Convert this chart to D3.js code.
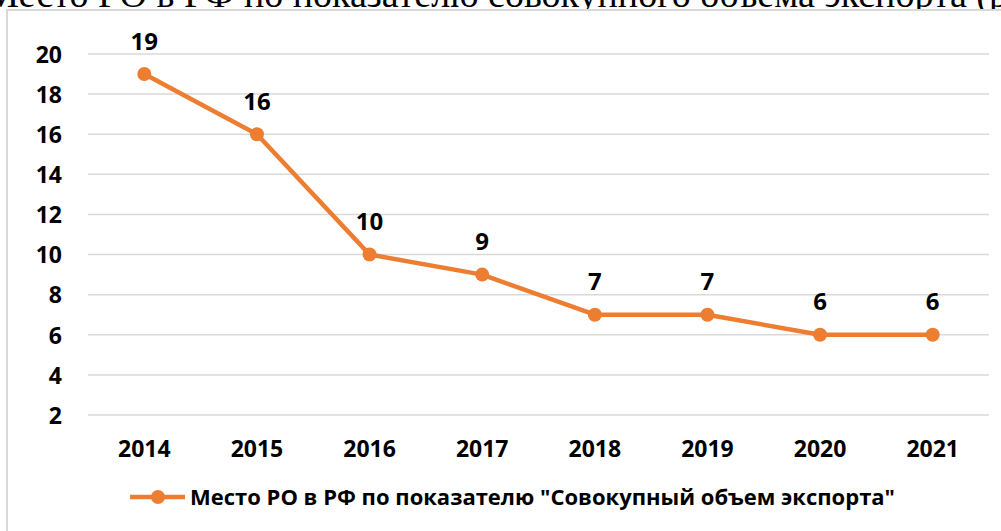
<!DOCTYPE html>
<html><head><meta charset="utf-8">
<script src="https://cdn.jsdelivr.net/npm/d3@7"></script>
<style>body{margin:0;background:#fff;} svg{display:block;}</style>
</head><body>
<svg id="c" width="1001" height="531"></svg>
<script>
const years = ["2014","2015","2016","2017","2018","2019","2020","2021"];
const values = [19,16,10,9,7,7,6,6];
const yTicks = [2,4,6,8,10,12,14,16,18,20];
const seriesName = "Место РО в РФ по показателю \"Совокупный объем экспорта\"";
const topText = "Рисунок 5 – Место РО в РФ по показателю совокупного объема экспорта (р";

const svg = d3.select("#c");
const color = "#ED7D31";
const font = "'Open Sans', Lato, sans-serif";

// cropped document text above the chart
svg.append("text").attr("x", 1008).attr("y", 7).attr("text-anchor","end")
  .attr("font-family","'Liberation Serif', serif")
  .attr("font-size", 38).attr("fill","#000").text(topText);

// chart frame
svg.append("rect").attr("x",7).attr("y",10).attr("width",1010).attr("height",540)
  .attr("fill","#fff").attr("stroke","#d9d9d9").attr("stroke-width",2);

const x = d3.scaleBand().domain(years).range([88, 989]);
const y = d3.scaleLinear().domain([2,20]).range([415, 54]);

// gridlines
svg.append("g").selectAll("line").data(yTicks).join("line")
  .attr("x1",88).attr("x2",989).attr("y1",d=>y(d)).attr("y2",d=>y(d))
  .attr("stroke","#d9d9d9").attr("stroke-width",1.5);

// y axis
const yAxis = svg.append("g").attr("transform","translate(62,0)")
  .call(d3.axisLeft(y).tickValues(yTicks).tickSize(0).tickPadding(0));
yAxis.select(".domain").remove();
yAxis.selectAll("text").attr("font-family",font).attr("font-weight","bold").attr("font-size",23).attr("fill","#000").attr("dy","0.36em");

// x axis
const xAxis = svg.append("g").attr("transform","translate(0,449)")
  .call(d3.axisBottom(x).tickSize(0).tickPadding(0));
xAxis.select(".domain").remove();
xAxis.selectAll("text").attr("font-family",font).attr("font-weight","bold").attr("font-size",23).attr("fill","#000").attr("dy","0.36em");

const cx = d => x(d) + x.bandwidth()/2;
const data = years.map((yr,i)=>({yr, v: values[i]}));

svg.append("path").datum(data)
  .attr("d", d3.line().x(d=>cx(d.yr)).y(d=>y(d.v)))
  .attr("fill","none").attr("stroke",color).attr("stroke-width",4.5).attr("stroke-linejoin","round");

svg.append("g").selectAll("circle").data(data).join("circle")
  .attr("cx",d=>cx(d.yr)).attr("cy",d=>y(d.v)).attr("r",7).attr("fill",color);

svg.append("g").selectAll("text").data(data).join("text")
  .attr("x",d=>cx(d.yr)).attr("y",d=>y(d.v)-33).attr("dy","0.36em").attr("text-anchor","middle")
  .attr("font-family",font).attr("font-weight","bold").attr("font-size",24).attr("fill","#000")
  .text(d=>d.v);

// legend
const lg = svg.append("g");
lg.append("line").attr("x1",130).attr("x2",185).attr("y1",497).attr("y2",497).attr("stroke",color).attr("stroke-width",4.5);
lg.append("circle").attr("cx",158).attr("cy",497).attr("r",7).attr("fill",color);
lg.append("text").attr("x",190).attr("y",497).attr("dy","0.36em")
  .attr("font-family",font).attr("font-weight","bold").attr("font-size",22).attr("fill","#000")
  .attr("textLength",705).attr("lengthAdjust","spacingAndGlyphs").text(seriesName);
</script>
</body></html>
